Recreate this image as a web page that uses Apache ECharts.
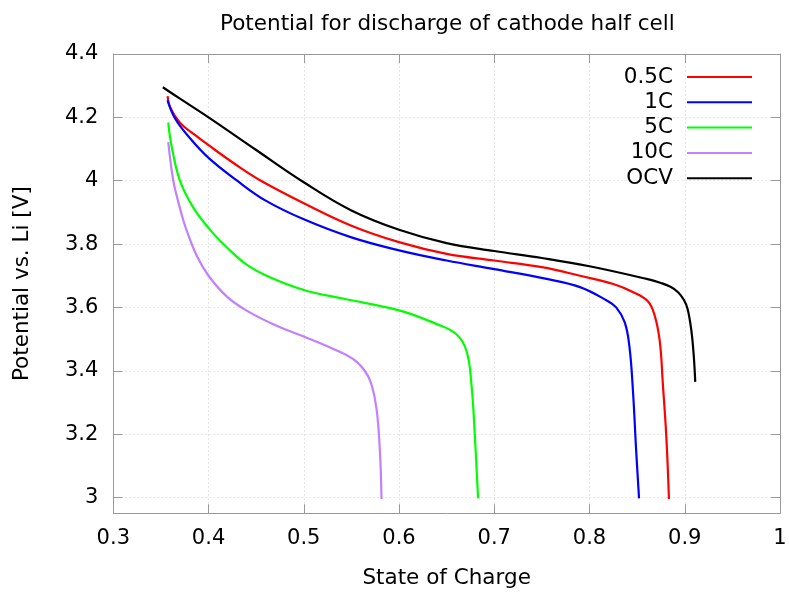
<!DOCTYPE html>
<html>
<head>
<meta charset="utf-8">
<title>Potential for discharge of cathode half cell</title>
<script src="https://cdn.jsdelivr.net/npm/echarts@6/dist/echarts.min.js"></script>
<style>
  html, body { margin: 0; padding: 0; background: #fff; }
  #chart { width: 789px; height: 592px; }
</style>
</head>
<body>
<div id="chart"></div>
<script>
// State of charge (x) and potential vs. Li in volts (y) for each discharge rate
const soc05C = [0.357, 0.3595, 0.37, 0.385, 0.4, 0.43, 0.455, 0.5, 0.55, 0.6, 0.65, 0.7, 0.75, 0.79, 0.825, 0.846, 0.861, 0.868, 0.8737, 0.877, 0.8807, 0.8834];
const v05C   = [4.267, 4.233, 4.183, 4.146, 4.112, 4.048, 4.0, 3.929, 3.858, 3.806, 3.769, 3.748, 3.727, 3.70, 3.674, 3.648, 3.62, 3.579, 3.495, 3.358, 3.189, 2.995];

const soc1C = [0.357, 0.3647, 0.38, 0.4, 0.43, 0.46, 0.5, 0.55, 0.6, 0.65, 0.7, 0.755, 0.79, 0.818, 0.828, 0.837, 0.842, 0.8456, 0.849, 0.852];
const v1C   = [4.254, 4.197, 4.136, 4.072, 4.0, 3.937, 3.878, 3.821, 3.78, 3.748, 3.721, 3.69, 3.664, 3.622, 3.60, 3.553, 3.474, 3.337, 3.147, 2.997];

const soc5C = [0.3577, 0.3613, 0.37, 0.384, 0.403, 0.419, 0.44, 0.4644, 0.5, 0.541, 0.601, 0.639, 0.66, 0.6708, 0.676, 0.6795, 0.683];
const v5C   = [4.183, 4.107, 4.0, 3.915, 3.84, 3.79, 3.735, 3.695, 3.655, 3.628, 3.59, 3.548, 3.516, 3.463, 3.358, 3.20, 2.997];

const soc10C = [0.3577, 0.363, 0.3685, 0.3735, 0.377, 0.3875, 0.4, 0.419, 0.44, 0.4715, 0.5, 0.531, 0.552, 0.564, 0.571, 0.5764, 0.5799, 0.5816];
const v10C   = [4.122, 4.0, 3.93, 3.875, 3.843, 3.764, 3.70, 3.635, 3.59, 3.542, 3.508, 3.469, 3.437, 3.40, 3.358, 3.28, 3.147, 2.995];

const socOCV = [0.352, 0.37, 0.4, 0.45, 0.5, 0.55, 0.6, 0.65, 0.7, 0.75, 0.8, 0.86, 0.875, 0.885, 0.893, 0.899, 0.903, 0.907, 0.9095, 0.911];
const vOCV   = [4.295, 4.259, 4.2, 4.097, 3.995, 3.906, 3.845, 3.803, 3.778, 3.756, 3.73, 3.69, 3.677, 3.665, 3.648, 3.624, 3.595, 3.525, 3.445, 3.365];

const seriesNames = ['0.5C', '1C', '5C', '10C', 'OCV'];
const seriesColors = ['#ff0000', '#0000ff', '#00ff00', '#c080ff', '#000000'];
const yTickValues = [3, 3.2, 3.4, 3.6, 3.8, 4, 4.2, 4.4];

const pairs = (xs, ys) => xs.map((x, i) => [x, ys[i]]);
const curves = [
  pairs(soc05C, v05C),
  pairs(soc1C, v1C),
  pairs(soc5C, v5C),
  pairs(soc10C, v10C),
  pairs(socOCV, vOCV)
];

const FONT = 'DejaVu Sans';
const frameColor = '#999999';
const gridColor = '#e6e6e6';

const chart = echarts.init(document.getElementById('chart'), null, { renderer: 'canvas' });

const tickFmt = v => String(Number(v.toFixed(1)));

chart.setOption({
  animation: false,
  backgroundColor: '#ffffff',
  textStyle: { fontFamily: FONT },
  title: {
    text: 'Potential for discharge of cathode half cell',
    left: 215, top: 8,
    textStyle: { fontFamily: FONT, fontSize: 21.5, fontWeight: 'normal', color: '#000' }
  },
  legend: {
    orient: 'vertical',
    align: 'right',
    right: 32,
    top: 61,
    icon: 'rect',
    itemWidth: 65,
    itemHeight: 2,
    itemGap: 3.3,
    selectedMode: false,
    data: seriesNames,
    textStyle: { fontFamily: FONT, fontSize: 21.5, color: '#000', padding: [0, 9, 0, 0] }
  },
  grid: { left: 113.3, right: 9, top: 54, bottom: 78.7, containLabel: false, outerBoundsMode: 'none' },
  xAxis: [
    {
      type: 'value', min: 0.3, max: 1, interval: 0.1,
      name: 'State of Charge', nameLocation: 'middle', nameGap: 54,
      nameTextStyle: { fontFamily: FONT, fontSize: 21.5, color: '#000' },
      axisLine: { show: true, onZero: false, lineStyle: { color: frameColor, width: 1 } },
      axisTick: { show: true, inside: true, length: 9, lineStyle: { color: frameColor } },
      axisLabel: { margin: 14.5, fontFamily: FONT, fontSize: 21, color: '#000', formatter: tickFmt },
      splitLine: { show: true, lineStyle: { color: gridColor, type: [2, 2], width: 1 } }
    },
    {
      type: 'value', min: 0.3, max: 1, interval: 0.1, position: 'top',
      axisLine: { show: true, onZero: false, lineStyle: { color: frameColor, width: 1 } },
      axisTick: { show: true, inside: true, length: 9, lineStyle: { color: frameColor } },
      axisLabel: { show: false },
      splitLine: { show: false }
    }
  ],
  yAxis: [
    {
      type: 'value', min: 2.95, max: 4.4,
      name: 'Potential vs. Li [V]', nameLocation: 'middle', nameGap: 80, nameRotate: 90,
      nameTextStyle: { fontFamily: FONT, fontSize: 21.5, color: '#000' },
      axisLine: { show: true, onZero: false, lineStyle: { color: frameColor, width: 1 } },
      axisTick: { show: true, inside: true, length: 9, lineStyle: { color: frameColor }, customValues: yTickValues },
      axisLabel: { margin: 15, fontFamily: FONT, fontSize: 21, color: '#000', formatter: tickFmt, customValues: yTickValues, padding: [10, 0, 0, 0] },
      splitLine: { show: true, lineStyle: { color: gridColor, type: [2, 2], width: 1 } }
    },
    {
      type: 'value', min: 2.95, max: 4.4, position: 'right',
      axisLine: { show: true, onZero: false, lineStyle: { color: frameColor, width: 1 } },
      axisTick: { show: true, inside: true, length: 9, lineStyle: { color: frameColor }, customValues: yTickValues },
      axisLabel: { show: false, customValues: yTickValues },
      splitLine: { show: false }
    }
  ],
  series: curves.map((data, i) => ({
    name: seriesNames[i],
    type: 'line',
    xAxisIndex: 0,
    yAxisIndex: 0,
    data: data,
    smooth: 0.4,
    symbol: 'none',
    showSymbol: false,
    color: seriesColors[i],
    lineStyle: { color: seriesColors[i], width: 2.2 },
    z: 3
  }))
});
</script>
</body>
</html>
